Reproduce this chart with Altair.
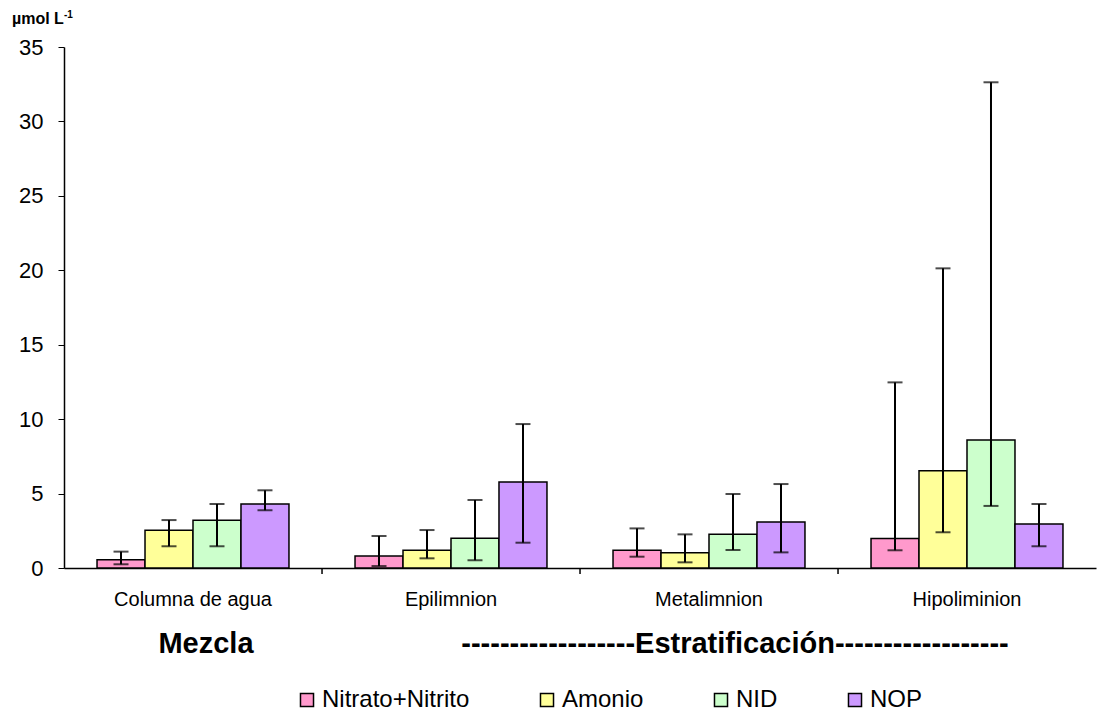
import altair as alt
import pandas as pd

# Zonas de la columna de agua y especies de nitrógeno
zonas = ["Columna de agua", "Epilimnion", "Metalimnion", "Hipoliminion"]
especies = ["Nitrato+Nitrito", "Amonio", "NID", "NOP"]
colores = ["#FF99CC", "#FFFF99", "#CCFFCC", "#CC99FF"]

# Concentraciones (µmol L-1): media, mínimo y máximo por zona
nitrato_media = [0.55, 0.81, 1.19, 1.99]
nitrato_min = [0.25, 0.13, 0.76, 1.19]
nitrato_max = [1.10, 2.15, 2.66, 12.47]

amonio_media = [2.53, 1.19, 1.03, 6.54]
amonio_min = [1.46, 0.65, 0.38, 2.40]
amonio_max = [3.22, 2.55, 2.26, 20.13]

nid_media = [3.20, 2.00, 2.26, 8.60]
nid_min = [1.46, 0.52, 1.21, 4.17]
nid_max = [4.30, 4.57, 4.97, 32.63]

nop_media = [4.30, 5.78, 3.09, 2.96]
nop_min = [3.88, 1.70, 1.05, 1.46]
nop_max = [5.22, 9.67, 5.64, 4.30]

series = {
    "Nitrato+Nitrito": (nitrato_media, nitrato_min, nitrato_max),
    "Amonio": (amonio_media, amonio_min, amonio_max),
    "NID": (nid_media, nid_min, nid_max),
    "NOP": (nop_media, nop_min, nop_max),
}

filas = []
for esp in especies:
    med, lo, hi = series[esp]
    for i, z in enumerate(zonas):
        filas.append({"zona": z, "especie": esp, "media": med[i], "lo": lo[i], "hi": hi[i]})
df = pd.DataFrame(filas)

FONT = "Liberation Sans"

x_enc = alt.X(
    "zona:N",
    sort=zonas,
    scale=alt.Scale(paddingInner=0.256, paddingOuter=0.128),
    axis=alt.Axis(
        title=None, labelAngle=0, labelFontSize=20, labelFont=FONT, labelColor="black",
        ticks=False, tickSize=0, labelPadding=21, domainColor="black", domainWidth=1.5,
    ),
)
off_enc = alt.XOffset("especie:N", sort=especies, scale=alt.Scale(paddingInner=0, paddingOuter=0))
y_scale = alt.Scale(domain=[0, 35], nice=False)

barras = alt.Chart(df).mark_bar(stroke="black", strokeWidth=1.5).encode(
    x=x_enc,
    xOffset=off_enc,
    y=alt.Y(
        "media:Q",
        scale=y_scale,
        axis=alt.Axis(
            title=None, values=[0, 5, 10, 15, 20, 25, 30, 35], grid=False,
            labelFontSize=22, labelFont=FONT, labelColor="black", labelPadding=15,
            tickSize=6, tickColor="black", domainColor="black", domainWidth=1.5,
        ),
    ),
    color=alt.Color(
        "especie:N",
        sort=especies,
        scale=alt.Scale(domain=especies, range=colores),
        legend=alt.Legend(
            title=None, orient="none", legendX=231, legendY=641, direction="horizontal",
            symbolType="square", symbolSize=170, symbolStrokeColor="black",
            symbolStrokeWidth=1.5, labelFontSize=24, labelFont=FONT, labelColor="black",
            columnPadding=65, labelOffset=3, padding=0,
        ),
    ),
)

barra_error = alt.Chart(df).mark_rule(color="black", strokeWidth=2).encode(
    x=alt.X("zona:N", sort=zonas),
    xOffset=alt.XOffset("especie:N", sort=especies),
    y=alt.Y("lo:Q", scale=y_scale),
    y2="hi:Q",
)

tope_sup = alt.Chart(df).mark_tick(color="black", thickness=2, size=15).encode(
    x=alt.X("zona:N", sort=zonas),
    xOffset=alt.XOffset("especie:N", sort=especies),
    y=alt.Y("hi:Q", scale=y_scale),
)
tope_inf = alt.Chart(df).mark_tick(color="black", thickness=2, size=15).encode(
    x=alt.X("zona:N", sort=zonas),
    xOffset=alt.XOffset("especie:N", sort=especies),
    y=alt.Y("lo:Q", scale=y_scale),
)

# Marcas de separación entre categorías del eje x
separadores = alt.Chart(pd.DataFrame({"zona": zonas[1:]})).mark_rule(
    color="black", strokeWidth=1.5, xOffset=-33
).encode(
    x=alt.X("zona:N", sort=zonas, bandPosition=0),
    y=alt.value(521),
    y2=alt.value(527),
)

etiqueta_y = alt.Chart(pd.DataFrame({"t": ["µmol L"]})).mark_text(
    font=FONT, fontSize=16, fontWeight="bold", align="left", baseline="alphabetic", color="black"
).encode(x=alt.value(-52), y=alt.value(-23), text="t:N")
exponente = alt.Chart(pd.DataFrame({"t": ["-1"]})).mark_text(
    font=FONT, fontSize=10, fontWeight="bold", align="left", baseline="alphabetic", color="black"
).encode(x=alt.value(0), y=alt.value(-29), text="t:N")

mezcla = alt.Chart(pd.DataFrame({"t": ["Mezcla"]})).mark_text(
    font=FONT, fontSize=29, fontWeight="bold", align="center", baseline="alphabetic", color="black"
).encode(x=alt.value(142), y=alt.value(606), text="t:N")
estrat = alt.Chart(pd.DataFrame({"t": ["-" * 18 + "Estratificación" + "-" * 18]})).mark_text(
    font=FONT, fontSize=29, fontWeight="bold", align="center", baseline="alphabetic", color="black"
).encode(x=alt.value(671), y=alt.value(606), text="t:N")

chart = alt.layer(
    barras, barra_error, tope_sup, tope_inf, separadores, etiqueta_y, exponente, mezcla, estrat
).properties(
    width=1032,
    height=521,
    autosize=alt.AutoSizeParams(type="none"),
    padding={"left": 64, "top": 47, "right": 1, "bottom": 148},
    background="white",
).configure_view(stroke=None)

chart.save("out.html", embed_options={"renderer": "svg", "actions": False})
